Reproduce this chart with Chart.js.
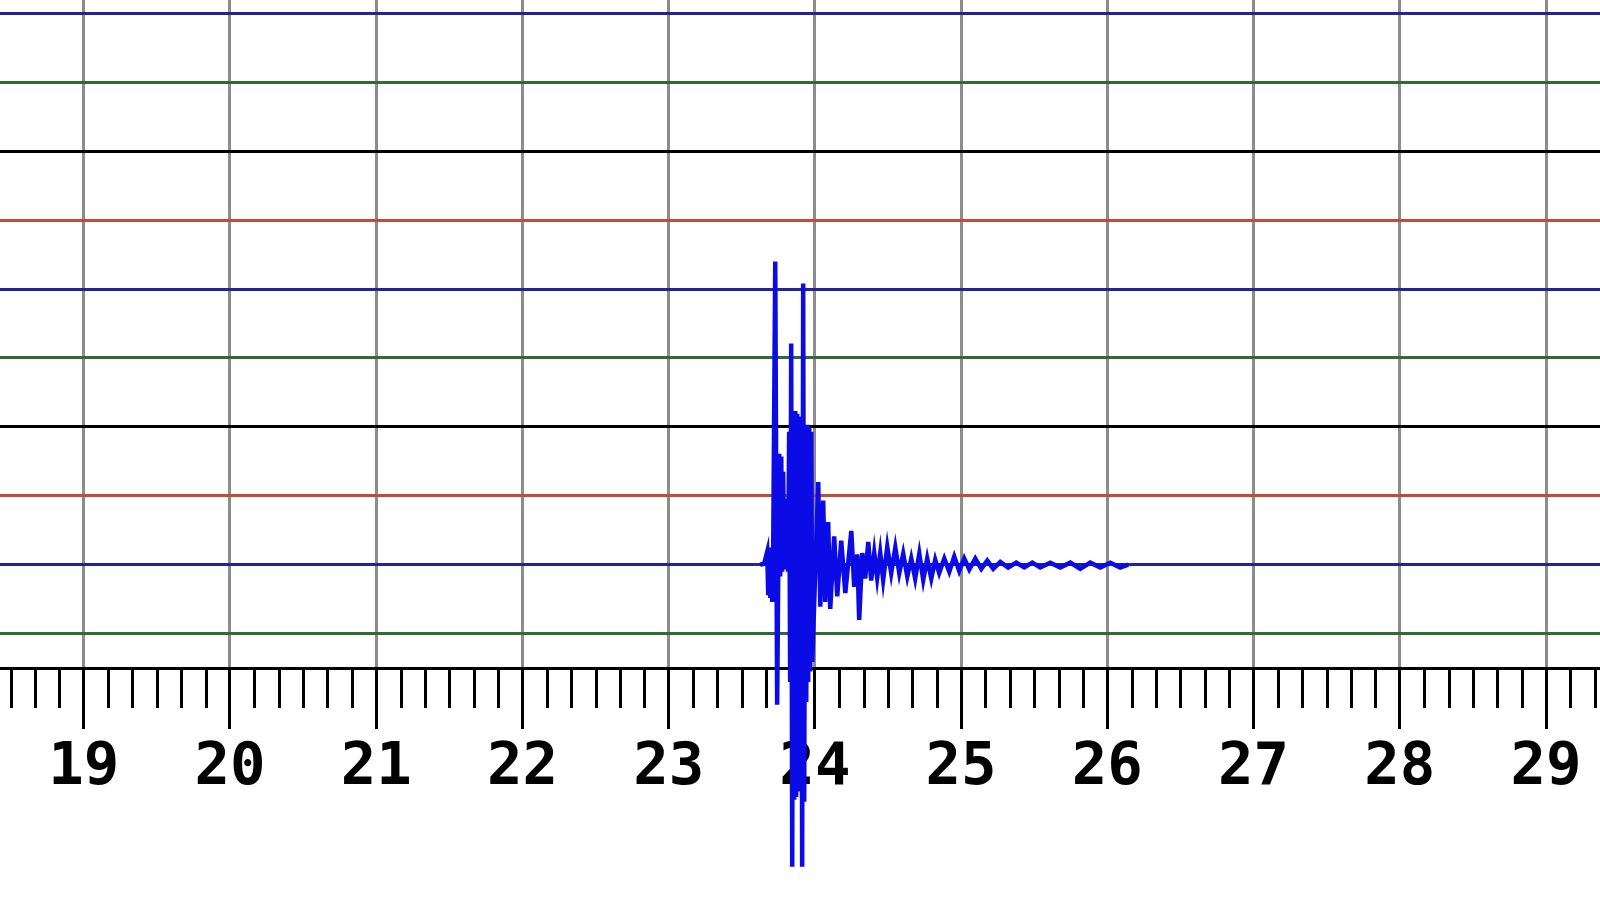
<!DOCTYPE html>
<html>
<head>
<meta charset="utf-8">
<script src="https://cdn.jsdelivr.net/npm/chart.js@4"></script>
<style>
  html, body { margin: 0; padding: 0; background: #fff; }
  #wrap { width: 1600px; height: 900px; position: relative; }
</style>
</head>
<body>
<div id="wrap"><canvas id="seismo"></canvas></div>
<script>
// eixo do tempo (minutos) e linhas horárias
const minuteTicks = [19, 20, 21, 22, 23, 24, 25, 26, 27, 28, 29];
const lineValues = [0, 1, 2, 3, 4, 5, 6, 7, 8, 9];
const lineColors = ['#2f6b32', '#24249a', '#c44a3c', '#000000']; // verde, azul, vermelho, preto
const traceBaseline = 1; // o traço fica sobre a linha azul nº 1
const minorPerMinute = 6;

// amostras do sismograma: tempo (min) e amplitude (em espaçamentos de linha)
const traceTime = [
  23.626, 23.653, 23.674, 23.681, 23.688, 23.695, 23.701, 23.708, 23.715, 23.729,
  23.742, 23.756, 23.763, 23.770, 23.776, 23.783, 23.790, 23.797, 23.804, 23.811,
  23.817, 23.824, 23.831, 23.838, 23.845, 23.852, 23.859, 23.866, 23.872, 23.879,
  23.886, 23.893, 23.900, 23.907, 23.913, 23.920, 23.927, 23.934, 23.941, 23.948,
  23.954, 23.961, 23.968, 23.975, 23.982, 24.023, 24.037, 24.057, 24.071, 24.091,
  24.105, 24.132, 24.153, 24.180, 24.208, 24.249, 24.269, 24.290, 24.303, 24.324,
  24.344, 24.365, 24.385, 24.406, 24.426, 24.447, 24.467, 24.495, 24.522, 24.550,
  24.577, 24.604, 24.632, 24.659, 24.686, 24.714, 24.741, 24.768, 24.796, 24.823,
  24.850, 24.885, 24.919, 24.953, 24.987, 25.021, 25.056, 25.097, 25.138, 25.179,
  25.220, 25.268, 25.322, 25.377, 25.432, 25.487, 25.541, 25.610, 25.678, 25.747,
  25.815, 25.883, 25.952, 26.020, 26.088, 26.143
];
const traceAmp = [
  0, 0.015, 0.19, -0.44, 0.22, -0.48, 0.25, -0.54, 0.26, 4.40,
  -2.03, 1.61, -0.17, 1.57, -0.10, 1.35, -0.03, 0.77, -0.07, 0.96,
  -0.10, 1.93, -1.70, 3.21, -4.38, 2.07, -3.41, 2.23, -3.37, 2.19,
  -3.29, 2.15, -3.15, 2.07, -4.38, 4.08, -3.44, 2.03, -1.99, 2.03,
  -1.70, 2.00, -1.55, 1.93, -1.41, 1.20, -0.61, 0.93, -0.54, 0.62,
  -0.64, 0.41, -0.46, 0.35, -0.41, 0.49, -0.32, 0.15, -0.80, 0.17,
  -0.20, 0.33, -0.23, 0.17, -0.19, 0.17, -0.22, 0.26, -0.12, 0.25,
  -0.12, 0.16, -0.17, 0.09, -0.20, 0.16, -0.22, 0.09, -0.20, 0.07,
  -0.12, 0.09, -0.10, 0.12, -0.09, 0.09, -0.07, 0.09, -0.06, 0.06,
  -0.06, 0.04, -0.04, 0.03, -0.04, 0.03, -0.04, 0.03, -0.04, 0.03,
  -0.06, 0.03, -0.04, 0.03, -0.04, 0
];

const xMin = 18.4275, xMax = 29.369;
const yMin = -0.498, yMax = 9.193;

const tracePoints = traceTime.map((t, i) => ({ x: t, y: traceBaseline + traceAmp[i] }));

// marcas de 10 s entre os minutos
const minorTicks = {
  id: 'minorTicks',
  beforeDatasetsDraw(chart) {
    const sx = chart.scales.x;
    const c = chart.ctx;
    c.save();
    c.strokeStyle = '#000';
    c.lineWidth = 3;
    for (let k = Math.ceil(sx.min * minorPerMinute); k <= sx.max * minorPerMinute; k++) {
      if (k % minorPerMinute === 0) continue;
      const px = Math.round(sx.getPixelForValue(k / minorPerMinute)) + 0.5;
      c.beginPath();
      c.moveTo(px, sx.top);
      c.lineTo(px, sx.top + 40);
      c.stroke();
    }
    c.restore();
  }
};

const ctx = document.getElementById('seismo').getContext('2d');
new Chart(ctx, {
  type: 'line',
  data: {
    datasets: [{
      data: tracePoints,
      borderColor: '#0b0be6',
      borderWidth: 4.5,
      borderJoinStyle: 'miter',
      pointRadius: 0,
      tension: 0,
      fill: false,
      clip: false
    }]
  },
  options: {
    responsive: true,
    maintainAspectRatio: false,
    animation: false,
    layout: { padding: 0 },
    plugins: { legend: { display: false }, tooltip: { enabled: false } },
    scales: {
      x: {
        type: 'linear',
        min: xMin,
        max: xMax,
        afterFit: s => { s.height = 232; },
        afterBuildTicks: s => { s.ticks = minuteTicks.map(v => ({ value: v })); },
        ticks: {
          stepSize: 1,
          includeBounds: false,
          autoSkip: false,
          maxRotation: 0,
          padding: 4,
          color: '#000',
          font: { family: 'DejaVu Sans Mono', size: 59, weight: 'bold' }
        },
        grid: {
          color: '#8c8c8c',
          lineWidth: 3,
          tickColor: '#000',
          tickWidth: 3,
          tickLength: 61
        },
        border: { display: true, color: '#000', width: 3 }
      },
      y: {
        type: 'linear',
        min: yMin,
        max: yMax,
        afterFit: s => { s.width = 0; },
        afterBuildTicks: s => { s.ticks = lineValues.map(v => ({ value: v })); },
        ticks: { display: false },
        grid: {
          drawTicks: false,
          lineWidth: 3,
          color: c => lineColors[c.tick.value % 4]
        },
        border: { display: false }
      }
    }
  },
  plugins: [minorTicks]
});
</script>
</body>
</html>
